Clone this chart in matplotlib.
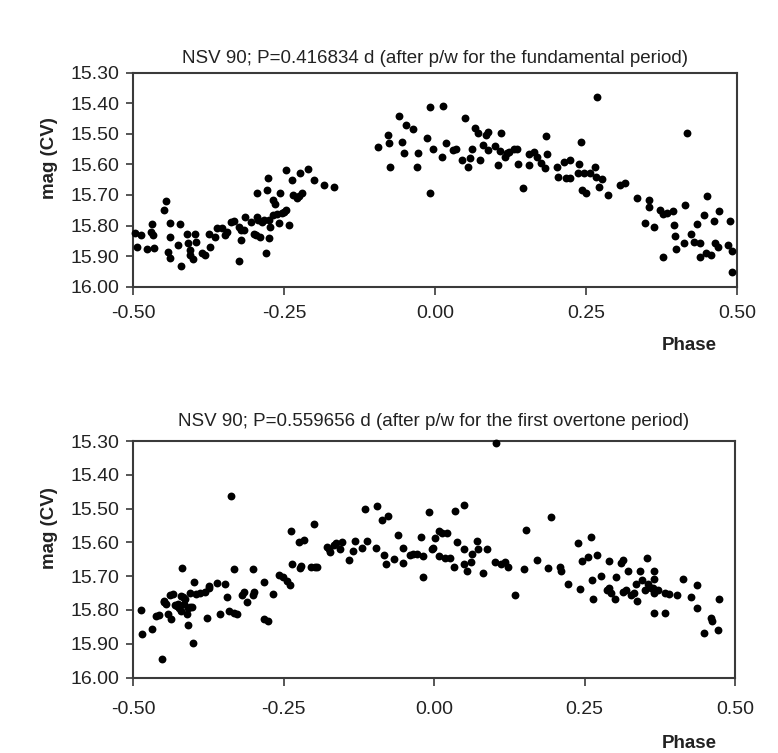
import matplotlib
matplotlib.use("Agg")
import matplotlib.pyplot as plt
from matplotlib.ticker import FixedLocator

plt.rcParams['font.family'] = ['Liberation Sans', 'DejaVu Sans']
plt.rcParams['axes.unicode_minus'] = False

title_fund = "NSV 90; P=0.416834 d (after p/w for the fundamental period)"
title_over = "NSV 90; P=0.559656 d (after p/w for the first overtone period)"
xlabel = "Phase"
ylabel = "mag (CV)"
x_ticks = [-0.50, -0.25, 0.00, 0.25, 0.50]
y_ticks = [15.30, 15.40, 15.50, 15.60, 15.70, 15.80, 15.90, 16.00]

fund_phase = [
    -0.496, -0.493, -0.487, -0.477, -0.468, -0.470, -0.467, -0.466, -0.448, -0.445,
    -0.442, -0.439, -0.438, -0.438, -0.426, -0.423, -0.420, -0.410, -0.409, -0.406,
    -0.405, -0.400, -0.397, -0.395, -0.386, -0.380, -0.374, -0.372, -0.365, -0.361,
    -0.352, -0.347, -0.344, -0.338, -0.332, -0.325, -0.324, -0.322, -0.321, -0.317,
    -0.315, -0.305, -0.300, -0.297, -0.294, -0.294, -0.293, -0.290, -0.286, -0.283,
    -0.279, -0.278, -0.277, -0.275, -0.275, -0.273, -0.269, -0.268, -0.265, -0.262,
    -0.258, -0.256, -0.253, -0.250, -0.247, -0.246, -0.242, -0.236, -0.235, -0.228,
    -0.225, -0.223, -0.220, -0.210, -0.201, -0.184, -0.167,
    -0.094, -0.077, -0.076, -0.075, -0.059, -0.055, -0.052, -0.048, -0.037, -0.030,
    -0.028,
    -0.009, 0.013, -0.014, -0.009, -0.003, 0.011, 0.018, 0.030, 0.035, 0.044,
    0.050, 0.054, 0.058, 0.061, 0.066, 0.072, 0.075, 0.080, 0.085, 0.088,
    0.088, 0.099, 0.105, 0.108, 0.110, 0.116, 0.120, 0.123, 0.130, 0.136,
    0.138, 0.146, 0.155, 0.156, 0.164, 0.169, 0.175, 0.182, 0.184, 0.186,
    0.202, 0.203, 0.214, 0.217, 0.223, 0.223, 0.236, 0.239, 0.241, 0.243,
    0.247, 0.250, 0.256, 0.265, 0.267, 0.268, 0.272, 0.276, 0.286, 0.307,
    0.315, 0.334, 0.348, 0.354, 0.355, 0.362, 0.373, 0.377, 0.378, 0.384,
    0.394, 0.396, 0.398, 0.399, 0.412, 0.414, 0.417, 0.424, 0.428, 0.434,
    0.439, 0.438, 0.446, 0.449, 0.451, 0.457, 0.462, 0.464, 0.468, 0.470,
    0.485, 0.489, 0.492, 0.492,
]
fund_mag = [
    15.823, 15.869, 15.831, 15.878, 15.796, 15.820, 15.831, 15.875, 15.749, 15.719,
    15.886, 15.907, 15.791, 15.837, 15.862, 15.796, 15.933, 15.826, 15.856, 15.880,
    15.897, 15.911, 15.826, 15.853, 15.889, 15.897, 15.826, 15.871, 15.837, 15.809,
    15.809, 15.831, 15.820, 15.787, 15.784, 15.804, 15.915, 15.815, 15.847, 15.815,
    15.771, 15.787, 15.826, 15.831, 15.693, 15.771, 15.782, 15.837, 15.787, 15.782,
    15.889, 15.684, 15.646, 15.782, 15.842, 15.804, 15.766, 15.717, 15.730, 15.762,
    15.791, 15.693, 15.758, 15.755, 15.749, 15.618, 15.798, 15.651, 15.700, 15.711,
    15.703, 15.629, 15.695, 15.616, 15.651, 15.667, 15.673,
    15.544, 15.504, 15.531, 15.608, 15.442, 15.526, 15.564, 15.471, 15.485, 15.610,
    15.564,
    15.413, 15.409, 15.512, 15.693, 15.551, 15.575, 15.531, 15.553, 15.551, 15.584,
    15.449, 15.608, 15.580, 15.551, 15.482, 15.498, 15.584, 15.537, 15.504, 15.493,
    15.553, 15.540, 15.602, 15.555, 15.498, 15.575, 15.564, 15.558, 15.548, 15.548,
    15.599, 15.676, 15.602, 15.566, 15.558, 15.575, 15.594, 15.613, 15.507, 15.566,
    15.610, 15.640, 15.591, 15.646, 15.584, 15.646, 15.629, 15.599, 15.526, 15.684,
    15.629, 15.693, 15.627, 15.610, 15.640, 15.381, 15.673, 15.649, 15.700, 15.667,
    15.662, 15.711, 15.791, 15.717, 15.738, 15.804, 15.749, 15.762, 15.902, 15.758,
    15.751, 15.798, 15.834, 15.878, 15.858, 15.733, 15.496, 15.828, 15.853, 15.795,
    15.858, 15.902, 15.766, 15.889, 15.703, 15.897, 15.784, 15.858, 15.869, 15.751,
    15.864, 15.784, 15.882, 15.951,
]

over_phase = [
    -0.487, -0.485, -0.468, -0.461, -0.457, -0.452, -0.449, -0.448, -0.446, -0.442,
    -0.438, -0.437, -0.434, -0.430, -0.427, -0.426, -0.423, -0.421, -0.420, -0.419,
    -0.417, -0.415, -0.413, -0.410, -0.409, -0.408, -0.406, -0.405, -0.402, -0.400,
    -0.398, -0.395, -0.388, -0.380, -0.377, -0.374, -0.373, -0.361, -0.355, -0.347,
    -0.344, -0.340, -0.337, -0.333, -0.332, -0.327, -0.319, -0.315, -0.311, -0.301,
    -0.300, -0.299, -0.283, -0.282, -0.275, -0.268, -0.258, -0.251, -0.244, -0.240,
    -0.237, -0.236, -0.225, -0.223, -0.221, -0.216, -0.205, -0.199, -0.197, -0.195,
    -0.178, -0.174, -0.173, -0.166, -0.163, -0.156, -0.152, -0.142, -0.134, -0.131,
    -0.120, -0.114, -0.112, -0.096, -0.094, -0.087, -0.083, -0.079, -0.077, -0.067,
    -0.059, -0.051, -0.051, -0.040, -0.035, -0.029, -0.022, -0.018, -0.018, -0.009,
    0.103, 0.035, 0.050, 0.001, -0.003, -0.002, 0.009, 0.013, 0.022, 0.008,
    0.018, 0.026, 0.033, 0.039, 0.050, 0.050, 0.054, 0.062, 0.063, 0.072,
    0.073, 0.081, 0.088, 0.102, 0.111, 0.118, 0.123, 0.135, 0.149, 0.153,
    0.171, 0.189, 0.194, 0.209, 0.211, 0.223, 0.240, 0.242, 0.246, 0.256,
    0.261, 0.262, 0.264, 0.271, 0.278, 0.288, 0.290, 0.291, 0.294, 0.301,
    0.303, 0.310, 0.314, 0.314, 0.319, 0.322, 0.327, 0.332, 0.336, 0.338,
    0.343, 0.345, 0.350, 0.354, 0.355, 0.360, 0.363, 0.366, 0.366, 0.366,
    0.366, 0.372, 0.383, 0.384, 0.391, 0.404, 0.413, 0.427, 0.437, 0.437,
    0.448, 0.460, 0.461, 0.472, 0.474,
]
over_mag = [
    15.801, 15.872, 15.857, 15.818, 15.815, 15.945, 15.778, 15.773, 15.783, 15.811,
    15.755, 15.828, 15.753, 15.785, 15.788, 15.783, 15.793, 15.758, 15.803, 15.676,
    15.761, 15.783, 15.768, 15.813, 15.845, 15.793, 15.791, 15.749, 15.791, 15.897,
    15.716, 15.753, 15.749, 15.746, 15.825, 15.729, 15.734, 15.719, 15.811, 15.722,
    15.761, 15.803, 15.464, 15.808, 15.679, 15.811, 15.755, 15.746, 15.778, 15.679,
    15.755, 15.746, 15.716, 15.828, 15.833, 15.753, 15.696, 15.704, 15.714, 15.726,
    15.567, 15.664, 15.600, 15.676, 15.669, 15.593, 15.674, 15.546, 15.674, 15.672,
    15.613, 15.620, 15.630, 15.607, 15.603, 15.620, 15.600, 15.652, 15.627, 15.595,
    15.617, 15.501, 15.595, 15.617, 15.491, 15.534, 15.637, 15.664, 15.521, 15.650,
    15.577, 15.617, 15.662, 15.637, 15.635, 15.635, 15.585, 15.704, 15.640, 15.511,
    15.306, 15.508, 15.488, 15.587, 15.620, 15.617, 15.567, 15.573, 15.573, 15.640,
    15.645, 15.645, 15.674, 15.600, 15.620, 15.664, 15.686, 15.659, 15.633, 15.595,
    15.620, 15.692, 15.620, 15.659, 15.664, 15.659, 15.672, 15.755, 15.679, 15.563,
    15.652, 15.676, 15.524, 15.674, 15.684, 15.724, 15.603, 15.739, 15.656, 15.643,
    15.583, 15.712, 15.768, 15.637, 15.699, 15.742, 15.656, 15.736, 15.751, 15.768,
    15.704, 15.662, 15.652, 15.746, 15.742, 15.686, 15.755, 15.751, 15.724, 15.775,
    15.684, 15.712, 15.742, 15.645, 15.724, 15.734, 15.736, 15.684, 15.709, 15.749,
    15.808, 15.742, 15.808, 15.751, 15.753, 15.755, 15.709, 15.761, 15.726, 15.793,
    15.867, 15.825, 15.833, 15.860, 15.768,
]

W, H = 778, 753
fig = plt.figure(figsize=(W / 100, H / 100), dpi=100)
fig.patch.set_facecolor('white')

spine_col = '#3a3a3a'
fs_tick = 14
fs_title = 13.5
fs_label = 13.5


def make_axes(rect, phase, mag, title, title_pad, tick_pad_x, ylab_y, xlab_y):
    ax = fig.add_axes(rect)
    ax.scatter(phase, mag, s=32, c='black', marker='o', linewidths=0, zorder=3, clip_on=False)
    ax.set_xlim(-0.5, 0.5)
    ax.set_ylim(16.0, 15.3)
    ax.xaxis.set_major_locator(FixedLocator(x_ticks))
    ax.yaxis.set_major_locator(FixedLocator(y_ticks))
    ax.set_xticklabels([f"{v:.2f}" for v in x_ticks])
    ax.set_yticklabels([f"{v:.2f}" for v in y_ticks])
    for sp in ax.spines.values():
        sp.set_color(spine_col)
        sp.set_linewidth(1.5)
    ax.tick_params(axis='y', direction='out', length=5, width=1.2, color=spine_col,
                   labelsize=fs_tick, pad=5, labelcolor='#222222')
    ax.tick_params(axis='x', direction='out', length=6, width=1.2, color=spine_col,
                   labelsize=fs_tick, pad=tick_pad_x, labelcolor='#222222')
    ax.set_title(title, fontsize=fs_title, pad=title_pad, color='#222222')
    ax.text((50 / W - rect[0]) / rect[2], ylab_y, ylabel,
            transform=ax.transAxes, rotation=90, ha='center', va='center',
            fontsize=fs_label, fontweight='bold', color='#222222')
    ax.text((689 / W - rect[0]) / rect[2], xlab_y, xlabel, transform=ax.transAxes,
            ha='center', va='center', fontsize=fs_label, fontweight='bold', color='#222222')
    return ax


# top axes: pixels x 133..737, y 72.7..286.7
r1 = [133 / W, 1 - 286.7 / H, (737 - 133) / W, (286.7 - 72.7) / H]
ax1 = make_axes(r1, fund_phase, fund_mag, title_fund, 7, 7,
                1 - (158 - 72.7) / (286.7 - 72.7), -(346 - 286.7) / (286.7 - 72.7))

# bottom axes: pixels x 133..735, y 441..677.5
r2 = [133 / W, 1 - 677.5 / H, (735 - 133) / W, (677.5 - 441) / H]
ax2 = make_axes(r2, over_phase, over_mag, title_over, 11, 11,
                1 - (528 - 441) / (677.5 - 441), -(743 - 677.5) / (677.5 - 441))

fig.savefig('out.png', dpi=100, facecolor='white')
